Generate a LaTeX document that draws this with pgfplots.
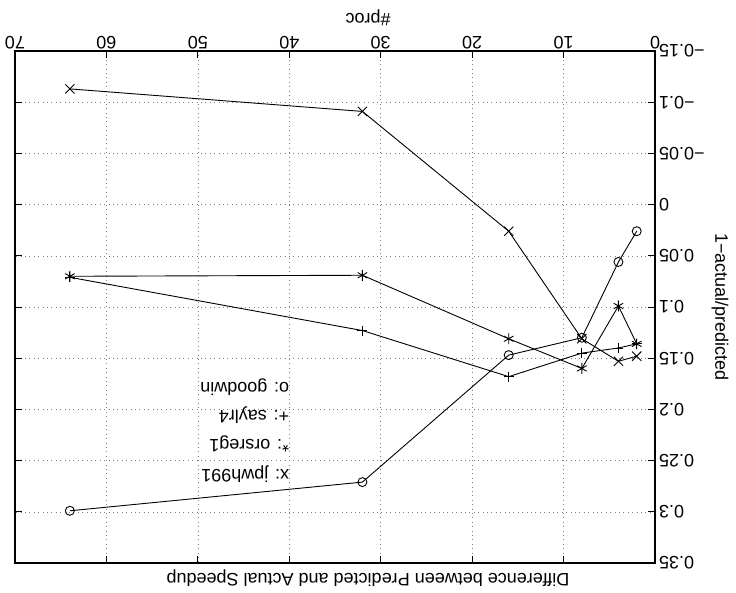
\documentclass[border=0pt]{standalone}
\usepackage{pgfplots}
\pgfplotsset{compat=1.18}
\usepackage{fontspec}
\setmainfont{Liberation Sans}
\begin{document}
\fontsize{18}{22}\selectfont
\begin{tikzpicture}
\begin{axis}[
 scale only axis, width=640pt, height=512pt,
 x dir=reverse, y dir=reverse,
 xmin=0, xmax=70, ymin=-0.15, ymax=0.35,
 xtick={0,10,...,70},
 ytick={-0.15,-0.1,-0.05,0,0.05,0.1,0.15,0.2,0.25,0.3,0.35},
 yticklabels={−0.15,−0.1,−0.05,0,0.05,0.1,0.15,0.2,0.25,0.3,0.35},
 /pgf/number format/assume math mode=true,
 xticklabel pos=upper, yticklabel pos=upper,
 xtick pos=both, ytick pos=both,
 tick align=inside,
 major tick length=7pt,
 xticklabel style={rotate=180, anchor=north, inner sep=2pt},
 yticklabel style={rotate=180, anchor=east, inner sep=4pt},
 grid=major,
 grid style={gray, line width=0.6pt, dash pattern=on 0.8pt off 3.6pt},
 axis line style={line width=1.5pt},
 every tick/.style={black, line width=0.8pt},
 clip=false,
]
\addplot[black, line width=0.9pt, mark=x, mark size=6.5pt, mark options={solid}] coordinates {(2,0.148)(4,0.153)(8,0.131)(16,0.026)(32,-0.091)(64,-0.113)};
\addplot[black, line width=0.9pt, mark=asterisk, mark size=5.5pt, mark options={solid}] coordinates {(2,0.136)(4,0.099)(8,0.160)(16,0.131)(32,0.069)(64,0.070)};
\addplot[black, line width=0.9pt, mark=+, mark size=5pt, mark options={solid}] coordinates {(2,0.136)(4,0.140)(8,0.145)(16,0.168)(32,0.123)(64,0.071)};
\addplot[black, line width=0.9pt, mark=o, mark size=4.5pt, mark options={solid}] coordinates {(2,0.026)(4,0.056)(8,0.130)(16,0.147)(32,0.271)(64,0.299)};
\node[rotate=180, anchor=west, inner sep=0pt] at (axis cs:40,0.263) {x: jpwh991};
\node[rotate=180, anchor=west, inner sep=0pt] at (axis cs:40,0.234) {*: orsreg1};
\node[rotate=180, anchor=west, inner sep=0pt] at (axis cs:40,0.206) {+: saylr4};
\node[rotate=180, anchor=west, inner sep=0pt] at (axis cs:40,0.178) {o: goodwin};
\coordinate (TL) at (axis cs:70,-0.15);
\coordinate (BL) at (axis cs:70,0.35);
\coordinate (BR) at (axis cs:0,0.35);
\coordinate (RC) at (axis cs:0,0.1);
\end{axis}
\node[rotate=180] at ([xshift=353pt,yshift=33pt]TL) {\#proc};
\node[rotate=180] at ([xshift=353pt,yshift=-15pt]BL) {Difference between Predicted and Actual Speedup};
\node[rotate=-90] at ([xshift=65pt]RC) {1−actual/predicted};
\path ([xshift=-15pt,yshift=51pt]TL) rectangle ([xshift=81pt,yshift=-29pt]BR);
\end{tikzpicture}
\end{document}
